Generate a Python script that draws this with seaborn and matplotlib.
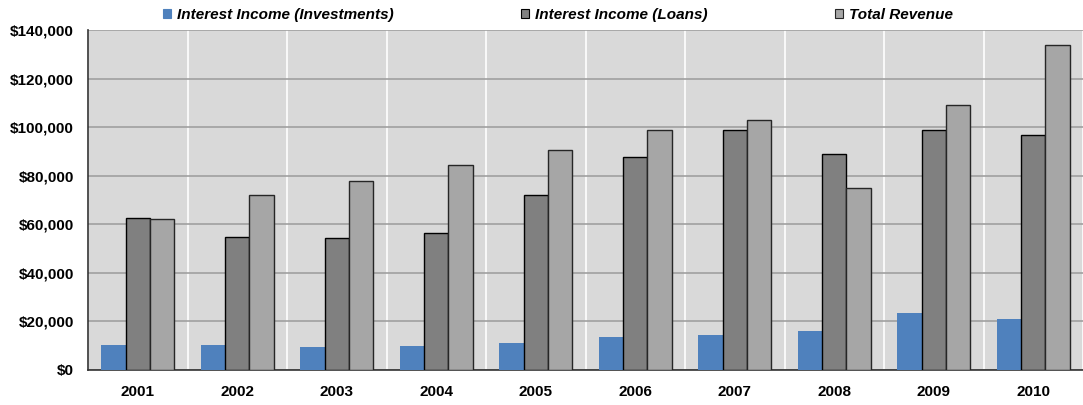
import pandas as pd
import seaborn as sns
import matplotlib.ticker as mticker
from matplotlib import pyplot as plt
from matplotlib.patches import Patch

years = ["2001", "2002", "2003", "2004", "2005", "2006", "2007", "2008", "2009", "2010"]
series_names = ["Interest Income (Investments)", "Interest Income (Loans)", "Total Revenue"]
investments = [10500, 10100, 9300, 9700, 11200, 13600, 14600, 16200, 23400, 21100]
loans = [62700, 54800, 54400, 56500, 72100, 87600, 98900, 89100, 98900, 96900]
total_revenue = [62300, 71900, 77700, 84300, 90600, 98900, 102900, 74800, 109100, 133700]

bar_colors = ["#4F81BD", "#808080", "#A6A6A6"]
edge_colors = ["none", "#000000", "#262626"]

rows = []
for name, values in zip(series_names, [investments, loans, total_revenue]):
    for yr, v in zip(years, values):
        rows.append({"Year": yr, "Series": name, "Value": v})
df = pd.DataFrame(rows)

sns.set_theme(style="white")
plt.rcParams["font.family"] = ["Liberation Sans", "DejaVu Sans"]
plt.rcParams["text.color"] = "black"
plt.rcParams["xtick.color"] = "black"
plt.rcParams["ytick.color"] = "black"

fig = plt.figure(figsize=(10.83, 4.05), dpi=100)
ax = fig.add_axes([88 / 1083, 35 / 405, 995 / 1083, 340 / 405])

sns.barplot(data=df, x="Year", y="Value", hue="Series", hue_order=series_names,
            palette=bar_colors, saturation=1, width=0.73, ax=ax, zorder=3)

for cont, ec in zip(ax.containers, edge_colors):
    for bar in cont:
        bar.set_edgecolor(ec)
        bar.set_linewidth(1.0 if ec != "none" else 0)

ax.set_facecolor("#D9D9D9")
ax.set_xlim(-0.5, len(years) - 0.5)
ax.set_ylim(0, 140000)
ax.set_xlabel("")
ax.set_ylabel("")

ax.yaxis.set_major_locator(mticker.MultipleLocator(20000))
ax.yaxis.set_major_formatter(mticker.FuncFormatter(lambda v, p: "${:,.0f}".format(v)))
ax.xaxis.set_minor_locator(mticker.FixedLocator([i - 0.5 for i in range(len(years) + 1)]))

ax.grid(axis="y", which="major", color="#A0A0A0", linewidth=1.2, zorder=0)
ax.grid(axis="x", which="minor", color="white", linewidth=1.2, zorder=0)
ax.grid(axis="x", which="major", visible=False)
ax.set_axisbelow(True)

ax.tick_params(axis="x", which="major", length=0, pad=11, labelsize=11)
ax.tick_params(axis="x", which="minor", direction="inout", length=8, width=1, color="#333333")
ax.tick_params(axis="y", which="major", direction="inout", length=8, width=1, color="#333333",
               labelsize=11, pad=6)
for lab in ax.get_xticklabels() + ax.get_yticklabels():
    lab.set_fontweight("bold")

for side in ["top", "right"]:
    ax.spines[side].set_visible(False)
ax.spines["left"].set_color("#333333")
ax.spines["bottom"].set_color("#333333")
ax.spines["left"].set_linewidth(1.2)
ax.spines["bottom"].set_linewidth(1.2)

ax.get_legend().remove()
handles = [Patch(facecolor=c, edgecolor=(e if e != "none" else c), linewidth=0.8)
           for c, e in zip(bar_colors, edge_colors)]
fig.legend(handles, series_names, loc="center", bbox_to_anchor=(558 / 1083, 1 - 15 / 405), ncol=3,
           frameon=False, handlelength=0.55, handleheight=0.55, handletextpad=0.4,
           columnspacing=8.3, prop={"weight": "bold", "style": "italic", "size": 11})

fig.savefig("out.png", dpi=100)
